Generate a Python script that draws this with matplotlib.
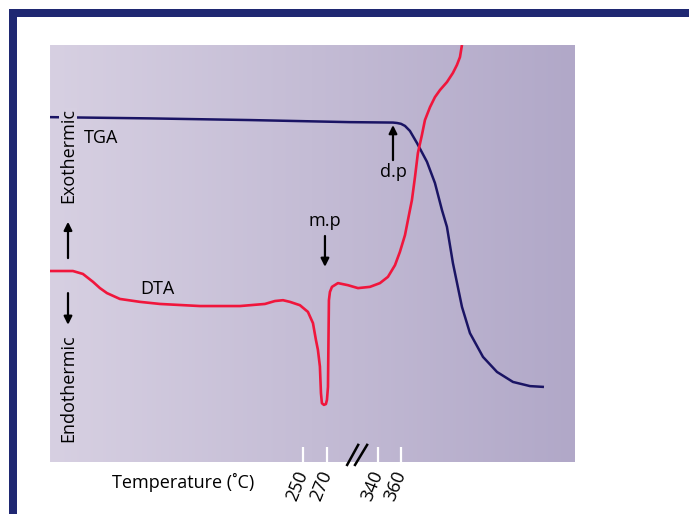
import numpy as np
import matplotlib
matplotlib.use("Agg")
import matplotlib.pyplot as plt
from matplotlib.patches import Rectangle
from matplotlib.colors import LinearSegmentedColormap

plt.rcParams['font.family'] = ['Open Sans', 'DejaVu Sans']

# Температура (°C) и сигналы (усл. ед.)
tga_temp = [34.3, 119.4, 204.5, 301.6, 352.8, 356.2, 359.6, 363.0, 367.2, 373.2,
            381.7, 388.5, 394.5, 398.7, 403.8, 411.5, 418.3, 429.4, 441.3, 454.9,
            469.4, 481.3]
tga_signal = [82.7, 82.4, 82.0, 81.5, 81.4, 81.3, 81.1, 80.6, 79.4, 76.5,
              72.0, 66.9, 60.4, 56.4, 47.7, 37.2, 30.9, 25.2, 21.6, 19.2,
              18.2, 18.0]

dta_temp = [34.3, 53.8, 62.3, 70.9, 76.8, 82.8, 93.8, 110.9, 127.9, 161.9,
            196.0, 217.2, 225.7, 232.6, 238.5, 247.0, 253.8, 258.1, 260.6, 262.3,
            264.0, 264.9, 265.7, 267.4, 269.1, 270.0, 271.4, 272.1, 272.7, 274.1,
            276.9, 285.1, 298.8, 312.6, 329.0, 341.7, 348.5, 354.5, 358.7, 363.0,
            367.2, 368.9, 371.5, 374.0, 377.4, 380.0, 384.3, 388.5, 392.8, 398.7,
            403.8, 407.2, 409.8, 411.5]
dta_signal = [45.8, 45.8, 45.1, 43.2, 41.7, 40.5, 39.1, 38.4, 37.9, 37.4,
              37.4, 37.9, 38.6, 38.8, 38.4, 37.6, 36.0, 33.3, 29.3, 26.9,
              22.9, 16.5, 14.1, 13.7, 13.9, 14.9, 18.0, 29.3, 38.8, 40.8,
              42.0, 42.9, 42.4, 41.7, 42.0, 42.9, 44.4, 47.2, 50.4, 54.4,
              60.4, 62.8, 68.3, 74.1, 78.4, 82.0, 85.1, 87.5, 89.2, 91.1,
              93.3, 95.2, 97.1, 100.0]

tick_temps = [250, 270, 340, 360]
melt_temp = 268.3       # m.p
decomp_temp = 352.8     # d.p

# Разрыв шкалы 270..340 сжат
BREAK_LO, BREAK_HI, BREAK_W = 270, 340, 43.4


def fwd(t):
    return np.interp(t, [-1000, BREAK_LO, BREAK_HI, 2000],
                     [-1000, BREAK_LO, BREAK_LO + BREAK_W, 2000 - (BREAK_HI - BREAK_LO) + BREAK_W])


def inv(u):
    return np.interp(u, [-1000, BREAK_LO, BREAK_LO + BREAK_W, 2000 - (BREAK_HI - BREAK_LO) + BREAK_W],
                     [-1000, BREAK_LO, BREAK_HI, 2000])


fig = plt.figure(figsize=(6.89, 5.14), dpi=100)
ax = fig.add_axes([50 / 689, 52 / 514, 525 / 689, 417 / 514])
ax.set_xscale('function', functions=(fwd, inv))
ax.set_xlim(34.3, 507.7)
ax.set_ylim(0, 100)

# фон с градиентом
cmap = LinearSegmentedColormap.from_list('bg', ['#d7d0e2', '#b1a8c8'])
ax.imshow(np.linspace(0, 1, 256).reshape(1, -1), cmap=cmap, aspect='auto',
          extent=[0, 1, 0, 1], transform=ax.transAxes, zorder=0)

ax.plot(tga_temp, tga_signal, color='#1a1464', lw=1.8, zorder=3,
        solid_joinstyle='round', solid_capstyle='butt')
ax.plot(dta_temp, dta_signal, color='#f0163c', lw=1.9, zorder=3,
        solid_joinstyle='round', solid_capstyle='butt')

for s in ax.spines.values():
    s.set_visible(False)
ax.set_yticks([])
ax.set_xticks(tick_temps)
ax.set_xticklabels([str(t) for t in tick_temps], rotation=68, ha='right', va='center',
                   rotation_mode='anchor', fontsize=13)
ax.tick_params(axis='x', direction='in', length=11, width=1.6, color='white', pad=7)

# знак разрыва оси
for x0, x1 in [(0.566, 0.587), (0.581, 0.604)]:
    ax.plot([x0, x1], [-0.007, 0.041], color='black', lw=1.8, transform=ax.transAxes,
            clip_on=False, zorder=5)

fs = 13
ax.text(77.7, 77.7, 'TGA', fontsize=fs, ha='center', va='center')
ax.text(125.3, 41.5, 'DTA', fontsize=fs, ha='center', va='center')

arrow = dict(arrowstyle='-|>', color='black', lw=1.6, mutation_scale=12, shrinkA=0, shrinkB=0)
ax.annotate('', xy=(decomp_temp, 80.8), xytext=(decomp_temp, 72.4), arrowprops=arrow)
ax.text(decomp_temp, 69.6, 'd.p', fontsize=fs, ha='center', va='center')
ax.annotate('', xy=(melt_temp, 46.8), xytext=(melt_temp, 54.2), arrowprops=arrow)
ax.text(melt_temp, 57.8, 'm.p', fontsize=fs, ha='center', va='center')

# подписи экзо/эндо
xa = 18 / 525
ax.text(xa, 0.735, 'Exothermic', rotation=90, fontsize=fs, ha='center', va='center',
        transform=ax.transAxes, zorder=4,
        bbox=dict(facecolor='#d6cfe1', edgecolor='none', pad=0.3))
ax.annotate('', xy=(xa, 0.576), xytext=(xa, 0.489), xycoords='axes fraction', arrowprops=arrow)
ax.annotate('', xy=(xa, 0.329), xytext=(xa, 0.405), xycoords='axes fraction', arrowprops=arrow)
ax.text(xa, 0.177, 'Endothermic', rotation=90, fontsize=fs, ha='center', va='center',
        transform=ax.transAxes)

fig.text(112 / 689, (514 - 482) / 514, 'Temperature (\u02daC)', fontsize=fs,
         ha='left', va='center')

# рамка
navy = '#1f2872'
fig.add_artist(Rectangle((9 / 689, 0), 8 / 689, (514 - 9) / 514, transform=fig.transFigure,
                         facecolor=navy, edgecolor='none'))
fig.add_artist(Rectangle((9 / 689, (514 - 17) / 514), 1, 8 / 514, transform=fig.transFigure,
                         facecolor=navy, edgecolor='none'))

fig.savefig('out.png', dpi=100)
